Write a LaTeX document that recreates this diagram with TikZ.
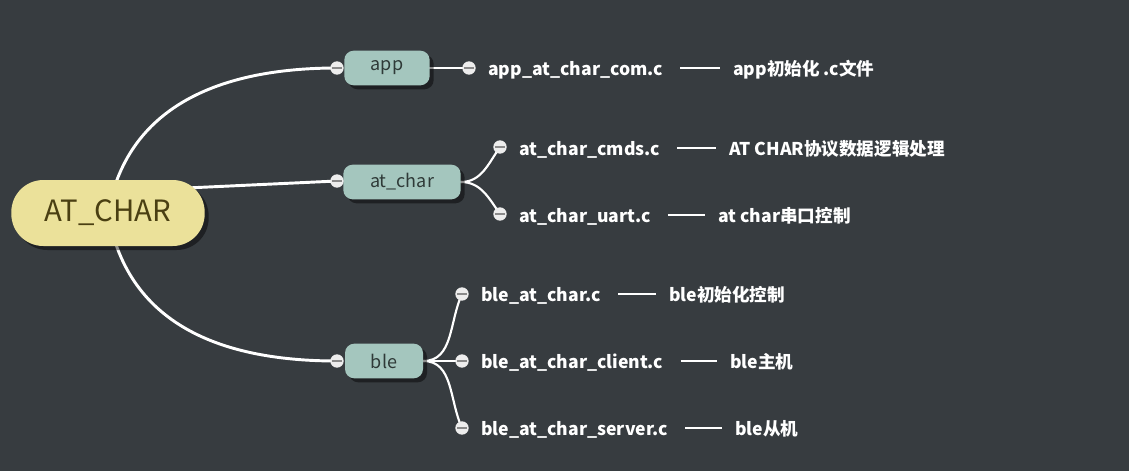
\documentclass[tikz,border=0pt]{standalone}
\usepackage{fontspec}
\setmainfont{Noto Sans CJK SC}
\usetikzlibrary{positioning,shadows,calc}
\definecolor{bgcol}{HTML}{373C40}
\definecolor{rootfill}{HTML}{EBE19A}
\definecolor{rootink}{HTML}{4A3F12}
\definecolor{topicfill}{HTML}{A4C6BE}
\definecolor{topicink}{HTML}{2F3A38}
\definecolor{dotline}{HTML}{8A8A8A}
\pgfdeclarelayer{links}
\pgfsetlayers{links,main}
\tikzset{
  nodeshadow/.style={drop shadow={shadow xshift=3pt,shadow yshift=-3pt,fill=black,opacity=0.45}},
  rootnode/.style={fill=rootfill,text=rootink,rounded corners=24pt,minimum width=145pt,minimum height=49.5pt,
    font=\fontsize{22}{26}\selectfont,nodeshadow},
  topicnode/.style={fill=topicfill,text=topicink,rounded corners=7pt,minimum height=26pt,inner xsep=0pt,
    font=\fontsize{13.5}{16}\selectfont,nodeshadow},
  dotnode/.style={circle,fill=white!93!black,minimum size=10pt,inner sep=0pt,
    path picture={\draw[dotline,line width=1.2pt] ([xshift=-3.5pt]path picture bounding box.center) -- ([xshift=3.5pt]path picture bounding box.center);}},
  leaftext/.style={anchor=west,inner sep=0pt,text height=14pt,text depth=3pt,text=white,
    font=\bfseries\fontsize{13.2}{16}\selectfont},
  notetext/.style={leaftext},
  rootlink/.style={draw=white,line width=2.2pt},
  branch/.style={draw=white,line width=1.6pt},
  dashlink/.style={draw=white,line width=1.5pt,shorten <=12.75pt,shorten >=9.75pt},
}
\begin{document}
\begin{tikzpicture}[x=0.75pt,y=-0.75pt]
\useasboundingbox (0,0) rectangle (1129,471);
\begin{pgfonlayer}{links}
\fill[bgcol] (0,0) rectangle (1129,471);
\end{pgfonlayer}

\node[rootnode] (root) at (108,213) {AT\_CHAR};
\node[topicnode,minimum width=64pt] (app) at (387,68) {app};
\node[topicnode,minimum width=88pt] (atchar) at (402,182) {at\_char};
\node[topicnode,minimum width=58.5pt] (ble) at (384,361) {ble};

\node[dotnode] (appin) at (337,68) {};
\node[dotnode] (atin) at (337,181) {};
\node[dotnode] (blein) at (337,361) {};
\node[dotnode] (appout) at (469,68) {};
\node[dotnode] (cmdsdot) at (500,147) {};
\node[dotnode] (uartdot) at (500,214) {};
\node[dotnode] (bledot) at (462,294) {};
\node[dotnode] (clientdot) at (462,361) {};
\node[dotnode] (serverdot) at (462,428) {};

\node[leaftext] (comfile) at (488,68) {app\_at\_char\_com.c};
\node[notetext] (comnote) at (733,68) {app初始化 .c文件};
\node[leaftext] (cmdsfile) at (519,148) {at\_char\_cmds.c};
\node[notetext] (cmdsnote) at (729,148) {AT CHAR协议数据逻辑处理};
\node[leaftext] (uartfile) at (519,215) {at\_char\_uart.c};
\node[notetext] (uartnote) at (718,215) {at char串口控制};
\node[leaftext] (blefile) at (481,294) {ble\_at\_char.c};
\node[notetext] (blenote) at (669,294) {ble初始化控制};
\node[leaftext] (clientfile) at (481,361) {ble\_at\_char\_client.c};
\node[notetext] (clientnote) at (730,361) {ble主机};
\node[leaftext] (serverfile) at (481,428) {ble\_at\_char\_server.c};
\node[notetext] (servernote) at (735,428) {ble从机};

\begin{pgfonlayer}{links}
\draw[rootlink] (root.center) .. controls (128,100) and (230,68) .. (appin.center);
\draw[rootlink] ([yshift=16pt]root.center) -- (atin.center);
\draw[rootlink] (root.center) .. controls (128,330) and (230,361) .. (blein.center);
\draw[branch] (app.center) -- (appout.center);
\draw[branch] (atchar.center) -- (atchar.east) to[out=0,in=235] (cmdsdot.center);
\draw[branch] (atchar.east) to[out=0,in=125] (uartdot.center);
\draw[branch] (ble.center) -- (ble.east) to[out=0,in=245] (bledot.center);
\draw[branch] (ble.east) -- (clientdot.center);
\draw[branch] (ble.east) to[out=0,in=115] (serverdot.center);
\end{pgfonlayer}

\draw[dashlink] (comfile) -- (comnote);
\draw[dashlink] (cmdsfile) -- (cmdsnote);
\draw[dashlink] (uartfile) -- (uartnote);
\draw[dashlink] (blefile) -- (blenote);
\draw[dashlink] (clientfile) -- (clientnote);
\draw[dashlink] (serverfile) -- (servernote);
\end{tikzpicture}
\end{document}
